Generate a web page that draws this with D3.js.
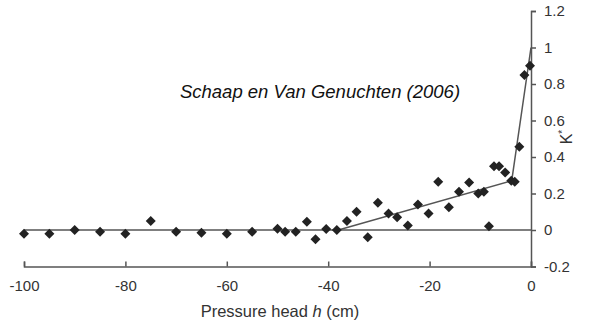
<!DOCTYPE html>
<html><head><meta charset="utf-8">
<script src="https://cdn.jsdelivr.net/npm/d3@7"></script>
<style>body{margin:0;background:#fff}svg{display:block}</style>
</head><body><svg id="c" width="596" height="325"></svg>
<script>
const xTicks = [-100,-80,-60,-40,-20,0];
const yTicks = [-0.2,0,0.2,0.4,0.6,0.8,1,1.2];
const obsH = [-100,-95,-90,-85,-80,-75,-70,-65,-60,-55,-50,-48.5,-46.4,-44.2,-42.5,-40.4,-38.3,-36.3,-34.4,-32.2,-30.2,-28.1,-26.4,-24.3,-22.3,-20.2,-18.3,-16.2,-14.2,-12.2,-10.4,-9.3,-8.3,-7.3,-6.3,-5.1,-3.9,-3.2,-2.3,-1.3,-0.2];
const obsK = [-0.02,-0.02,0.0,-0.01,-0.02,0.05,-0.01,-0.015,-0.02,-0.01,0.007,-0.01,-0.01,0.045,-0.05,0.005,0.0,0.05,0.10,-0.04,0.15,0.09,0.07,0.025,0.14,0.09,0.265,0.125,0.21,0.26,0.20,0.21,0.02,0.35,0.35,0.315,0.27,0.265,0.456,0.85,0.90];
const fitH = [-38,-3.8,0];
const fitK = [0,0.27,1.0];

const svg = d3.select("#c");
const x = d3.scaleLinear().domain([-100,0]).range([24,531]);
const y = d3.scaleLinear().domain([-0.2,1.2]).range([266.5,11]);
const col = "#555";
const font = "Liberation Sans, Arial, sans-serif";

// zero reference line
svg.append("line").attr("x1",x(-100)).attr("x2",x(0)).attr("y1",y(0)).attr("y2",y(0))
  .attr("stroke",col).attr("stroke-width",1.5);

// fitted segments
svg.append("path").datum(fitH.map((h,i)=>[h,fitK[i]]))
  .attr("d",d3.line().x(d=>x(d[0])).y(d=>y(d[1])))
  .attr("fill","none").attr("stroke",col).attr("stroke-width",1.5);

// x axis
const gx = svg.append("g").attr("transform",`translate(0,${y(-0.2)})`)
  .call(d3.axisTop(x).tickValues(xTicks).tickSize(5).tickFormat(d=>String(d)));
gx.select(".domain").attr("stroke",col).attr("stroke-width",1.5);
gx.selectAll(".tick line").attr("stroke",col).attr("stroke-width",1.5);
gx.selectAll(".tick text").attr("y",24).attr("dy","0").attr("fill","#333")
  .style("font-family",font).style("font-size","15px");

// y axis
const gy = svg.append("g").attr("transform",`translate(${x(0)},0)`)
  .call(d3.axisRight(y).tickValues(yTicks).tickSize(5).tickFormat(d=>String(+d.toFixed(1))));
gy.select(".domain").attr("stroke",col).attr("stroke-width",1.5);
gy.selectAll(".tick line").attr("stroke",col).attr("stroke-width",1.5);
gy.selectAll(".tick text").attr("x",13).attr("fill","#333")
  .style("font-family",font).style("font-size","15px");

// points
svg.append("g").selectAll("path").data(obsH.map((h,i)=>[h,obsK[i]])).join("path")
  .attr("transform",d=>`translate(${x(d[0])},${y(d[1])})`)
  .attr("d","M0,-5L5,0L0,5L-5,0Z").attr("fill","#222");

// labels
const xl = svg.append("text").attr("x",280).attr("y",317).attr("text-anchor","middle")
  .attr("fill","#333").style("font-family",font).style("font-size","16.5px");
xl.append("tspan").text("Pressure head ");
xl.append("tspan").attr("font-style","italic").text("h");
xl.append("tspan").text(" (cm)");

const yl = svg.append("text").attr("transform","translate(572,137) rotate(-90)")
  .attr("text-anchor","middle").attr("fill","#333").style("font-family",font).style("font-size","16px");
yl.append("tspan").text("K");
yl.append("tspan").attr("dy",-6).style("font-size","10px").text("*");

svg.append("text").attr("x",320).attr("y",98).attr("text-anchor","middle")
  .attr("fill","#111").attr("font-style","italic").style("font-family",font).style("font-size","18.5px")
  .text("Schaap en Van Genuchten (2006)");
</script></body></html>
